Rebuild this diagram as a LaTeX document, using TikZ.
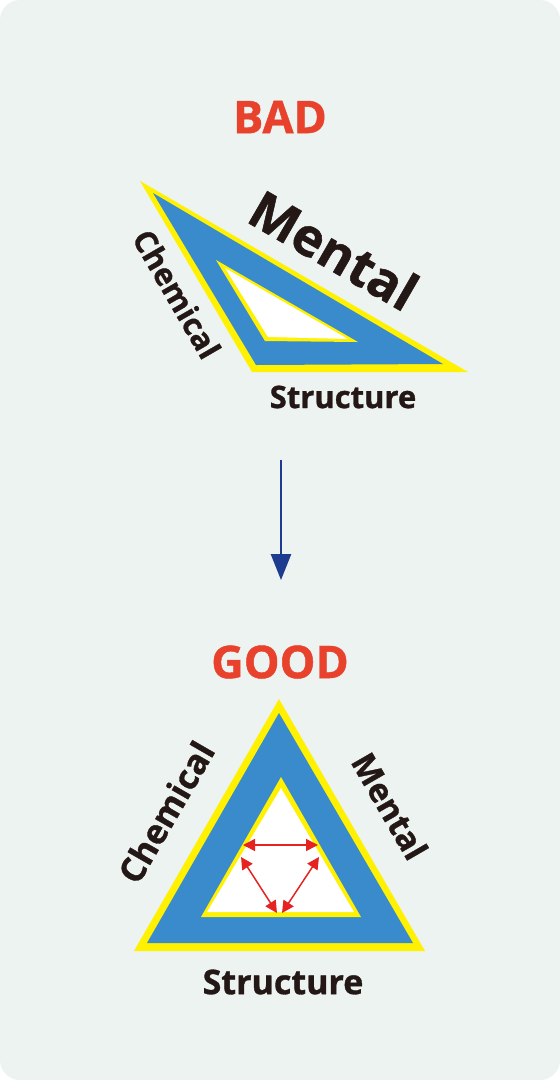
\documentclass[tikz,border=0pt]{standalone}
\usepackage{fontspec}
\setmainfont{Open Sans}[BoldFeatures={FakeBold=1}]
\usetikzlibrary{arrows.meta}
\definecolor{bg}{HTML}{EDF3F1}
\definecolor{ylw}{HTML}{FFF100}
\definecolor{blu}{HTML}{3A8BCB}
\definecolor{redt}{HTML}{E8412C}
\definecolor{redar}{HTML}{E52421}
\definecolor{txt}{HTML}{231815}
\definecolor{darr}{HTML}{1D3C8F}
\tikzset{
  lbl/.style={inner sep=0pt, text=txt, font=\bfseries\fontsize{#1}{#1}\selectfont},
  head/.style={inner sep=0pt, text=redt, font=\bfseries\fontsize{45}{45}\selectfont},
  redarrow/.style={draw=redar, line width=1.5pt, {Triangle[length=12pt,width=12pt]}-{Triangle[length=12pt,width=12pt]}},
}
\begin{document}
\begin{tikzpicture}[x=1pt,y=-1pt]
\useasboundingbox (0,0) rectangle (560,1080);
\fill[white] (0,0) rectangle (560,1080);
\fill[bg, rounded corners=20pt] (0,0) rectangle (560,1080);

% BAD
\node[head] (bad) at (280,117) {BAD};
\fill[ylw] (140,181) -- (252,372) -- (468,372) -- cycle;
\fill[blu] (153,193) -- (256,365) -- (443,364) -- cycle;
\fill[ylw] (216,260) -- (265,341) -- (358,342) -- cycle;
\fill[white] (225,268) -- (268,337) -- (348,339) -- cycle;
\node[lbl=52, rotate=-30] (bm) at (334,250) {Mental};
\node[lbl=31, rotate=-60] (bc) at (177,294) {Chemical};
\node[lbl=31] (bs) at (343,397) {Structure};

% arrow
\coordinate (a1) at (281,460);
\coordinate (a2) at (281,580);
\draw[darr, line width=2.6pt, -{Triangle[length=26pt,width=20pt]}] (a1) -- (a2);

% GOOD
\node[head] (good) at (280,662) {GOOD};
\fill[ylw] (279,699) -- (134,951) -- (425,951) -- cycle;
\fill[blu] (279,713) -- (147,943) -- (413,943) -- cycle;
\fill[ylw] (281,777) -- (201,917) -- (361,917) -- cycle;
\fill[white] (281,788) -- (207,912) -- (354,912) -- cycle;
\node[lbl=34, rotate=60] (gc) at (166,812) {Chemical};
\node[lbl=33, rotate=-60] (gm) at (390,806) {Mental};
\node[lbl=34] (gs) at (283,982) {Structure};

\coordinate (p1) at (243,845);
\coordinate (p2) at (318,845);
\coordinate (p3) at (241,857);
\coordinate (p4) at (277,913);
\coordinate (p5) at (319,857);
\coordinate (p6) at (282,913);
\draw[redarrow] (p1) -- (p2);
\draw[redarrow] (p3) -- (p4);
\draw[redarrow] (p5) -- (p6);
\end{tikzpicture}
\end{document}
